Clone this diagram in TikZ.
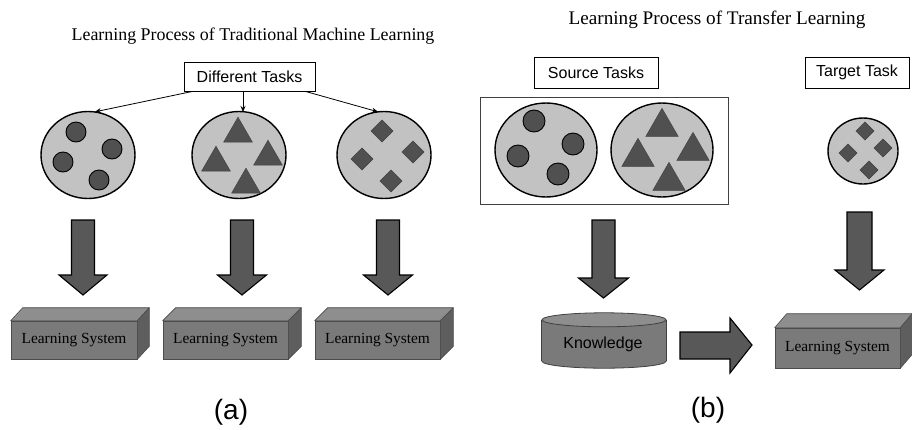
\documentclass[tikz,border=0pt]{standalone}
\usepackage{fontspec}
\setmainfont{Liberation Serif}
\newfontfamily\sansface{Liberation Sans}
\usetikzlibrary{shapes.geometric,calc,arrows.meta}

\definecolor{poolfill}{HTML}{C2C2C2}
\definecolor{itemfill}{HTML}{505050}
\definecolor{arrowfill}{HTML}{585858}
\definecolor{boxfront}{HTML}{7A7A7A}
\definecolor{boxtop}{HTML}{8E8E8E}
\definecolor{boxside}{HTML}{5E5E5E}

\tikzset{
  pool/.style={ellipse, draw=black, line width=1.4pt, fill=poolfill, inner sep=0pt},
  item/.style={draw=black, line width=0.9pt, fill=itemfill},
  flatitem/.style={fill=itemfill, draw=itemfill!80!black, line width=0.4pt},
  blockarrow/.style={fill=arrowfill, draw=black, line width=1.1pt, line join=miter},
  labelbox/.style={draw=black, line width=0.8pt, fill=white, inner sep=0pt, font=\sansface\fontsize{16}{18}\selectfont},
  sublabel/.style={font=\sansface\fontsize{28}{30}\selectfont},
  thinarrow/.style={line width=0.8pt, -{Stealth[length=6pt,width=5pt]}},
  sysfront/.style={draw=black!70, line width=0.6pt, fill=boxfront, inner sep=0pt, font=\fontsize{15.4}{17}\selectfont},
  sysface/.style={draw=black!70, line width=0.6pt, line join=round},
  storeline/.style={draw=black!75, line width=0.8pt},
}

% vertical block arrow: centre x, top, shaft half width, head top, head half width, tip
\newcommand\blockdown[6]{%
  \filldraw[blockarrow] (#1-#3,#2) -- (#1+#3,#2) -- (#1+#3,#4) -- (#1+#5,#4)
    -- (#1,#6) -- (#1-#5,#4) -- (#1-#3,#4) -- cycle;}

% learning-system block: name, centre x, centre y, width, height, depth x, depth y
\newcommand\sysblock[7]{%
  \node[sysfront, minimum width=#4pt, minimum height=#5pt] (#1) at (#2,#3) {Learning System};
  \filldraw[sysface, fill=boxtop] (#1.north west) -- ++(#6,-#7) -- ($(#1.north east)+(#6,-#7)$)
    -- (#1.north east) -- cycle;
  \filldraw[sysface, fill=boxside] (#1.north east) -- ++(#6,-#7) -- ($(#1.south east)+(#6,-#7)$)
    -- (#1.south east) -- cycle;}

% shapes inside the pools
\newcommand\pooldot[3]{\filldraw[item] (#1,#2) circle (#3);}
\newcommand\pooltri[3]{\filldraw[flatitem] (#1,#2-#3*0.62) -- (#1+#3*0.6,#2+#3*0.42) -- (#1-#3*0.6,#2+#3*0.42) -- cycle;}
\newcommand\pooldia[3]{\filldraw[flatitem] (#1,#2-#3) -- (#1+#3,#2) -- (#1,#2+#3) -- (#1-#3,#2) -- cycle;}

\begin{document}
\begin{tikzpicture}[x=1pt,y=-1pt]
\useasboundingbox (0,0) rectangle (912,429);
\fill[white] (0,0) rectangle (912,429);

% ---------------- (a) traditional machine learning ----------------
\node[font=\fontsize{17.9}{20}\selectfont] (titleA) at (253,36) {Learning Process of Traditional Machine Learning};
\node[labelbox, minimum width=131pt, minimum height=29pt] (dt) at (249.5,76.5) {Different Tasks};

\node[pool, minimum width=94pt, minimum height=87pt] (pa1) at (88,155) {};
\node[pool, minimum width=94pt, minimum height=87pt] (pa2) at (239,155) {};
\node[pool, minimum width=94pt, minimum height=87pt] (pa3) at (384,155) {};

\coordinate (dtl) at ($(dt.south west)+(9,0)$);
\coordinate (dtr) at ($(dt.south east)+(-10,0)$);
\coordinate (pa1t) at ($(pa1.north)+(7,1)$);
\coordinate (pa3t) at ($(pa3.north)+(-6,1)$);
\draw[thinarrow] (dtl) -- (pa1t);
\draw[thinarrow] (dt.south -| 243,0) -- (243,112);
\draw[thinarrow] (dtr) -- (pa3t);

\pooldot{76}{132}{10} \pooldot{112}{149}{10} \pooldot{63}{162}{10} \pooldot{99}{180}{10}
\pooltri{238}{132}{24} \pooltri{268}{155}{24} \pooltri{216}{161}{24} \pooltri{246}{183}{24}
\pooldia{382}{131}{11} \pooldia{413}{152}{11} \pooldia{362}{159}{11} \pooldia{391}{181}{11}

\blockdown{83}{220}{11.5}{275}{24}{295}
\blockdown{242}{220}{11.5}{275}{24.5}{295}
\blockdown{388}{220}{11.5}{275}{24.5}{295}

\sysblock{lsa1}{74}{340}{126}{38}{12}{13}
\sysblock{lsa2}{225.5}{340}{125}{38}{13}{13}
\sysblock{lsa3}{377.5}{340}{125}{38}{13}{13}

\node[sublabel] (capA) at (231,412) {(a)};

% ---------------- (b) transfer learning ----------------
\node[font=\fontsize{19.2}{21}\selectfont] (titleB) at (717,20) {Learning Process of Transfer Learning};
\node[labelbox, minimum width=124pt, minimum height=31pt] (src) at (596,72.5) {Source Tasks};
\node[labelbox, minimum width=104pt, minimum height=31pt] (tgt) at (857,72.5) {Target Task};

\node[draw=black!75, line width=0.8pt, minimum width=248pt, minimum height=107pt, inner sep=0pt] (srcgroup) at (604,150.5) {};
\node[pool, minimum width=102pt, minimum height=94pt] (pb1) at (546,150) {};
\node[pool, minimum width=102pt, minimum height=94pt] (pb2) at (662,150) {};
\node[pool, minimum width=70pt, minimum height=66pt] (pt) at (863,151) {};

\pooldot{534}{121}{11} \pooldot{573}{144}{11} \pooldot{518}{156}{11} \pooldot{558}{174}{11}
\pooltri{662}{125}{27} \pooltri{693}{149}{27} \pooltri{638}{155}{27} \pooltri{669}{179}{27}
\pooldia{865}{131}{9} \pooldia{883}{148}{9} \pooldia{848}{153}{9} \pooldia{869}{170}{9}

\blockdown{603.5}{220}{11.5}{278}{25}{298}
\blockdown{859.5}{212}{12.5}{270}{24.5}{290}

% knowledge store: bottom rim, body, top lid
\node[minimum width=124pt, minimum height=41pt, inner sep=0pt] (know) at (604,340.5) {};
\filldraw[fill=boxfront, storeline] (know.south) ellipse[x radius=62pt, y radius=7pt];
\fill[boxfront] (know.north west) rectangle (know.south east);
\draw[storeline] (know.north west) -- (know.south west);
\draw[storeline] (know.north east) -- (know.south east);
\filldraw[fill=boxtop, storeline] (know.north) ellipse[x radius=62pt, y radius=7pt];
\node[font=\sansface\fontsize{16}{18}\selectfont] (knowtxt) at (603,344) {Knowledge};

% transfer arrow
\filldraw[blockarrow] (680,332) -- (730,332) -- (730,318) -- (752,345) -- (730,373)
  -- (730,359) -- (680,359) -- cycle;

\sysblock{lsb}{837.5}{348}{125}{40}{12}{14}

\node[sublabel] (capB) at (708,410) {(b)};
\end{tikzpicture}
\end{document}
